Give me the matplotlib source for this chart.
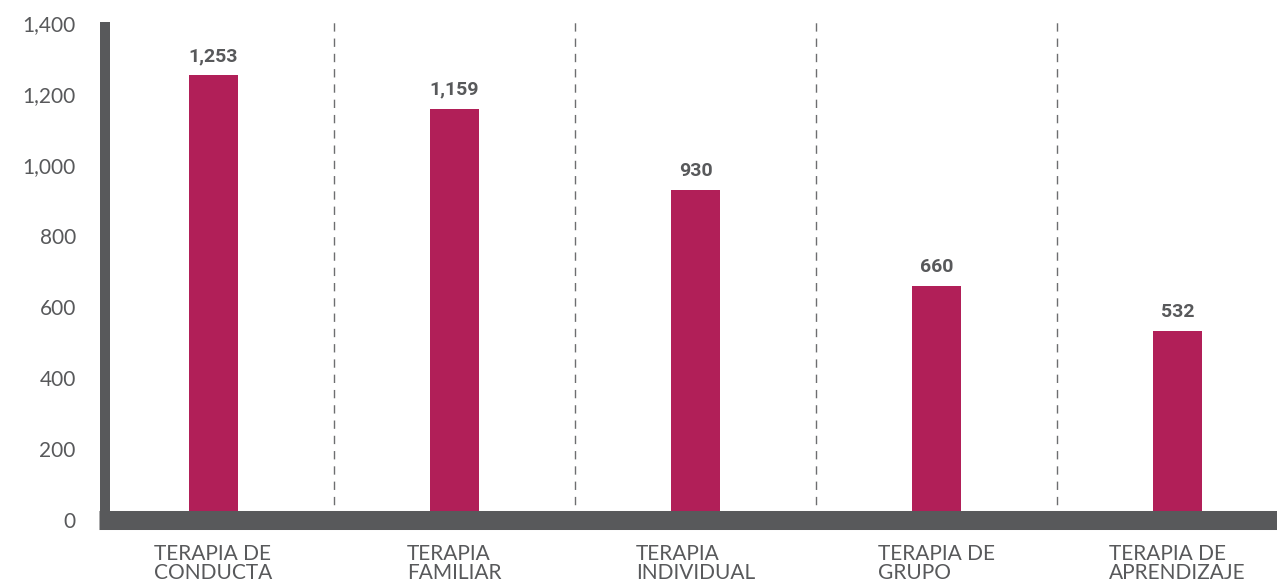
import matplotlib.pyplot as plt

# Número de casos por tipo de terapia
categorias = ["TERAPIA DE\nCONDUCTA", "TERAPIA\nFAMILIAR", "TERAPIA\nINDIVIDUAL",
              "TERAPIA DE\nGRUPO", "TERAPIA DE\nAPRENDIZAJE"]
valores = [1253, 1159, 930, 660, 532]
yticks = [0, 200, 400, 600, 800, 1000, 1200, 1400]

bar_color = "#b11f58"
axis_color = "#58595b"
text_color = "#58595b"

fig = plt.figure(figsize=(12.77, 5.87), dpi=100)
ax = fig.add_axes([105 / 1277, 67 / 587, 1172 / 1277, 497 / 587])

x = list(range(len(valores)))
ax.bar(x, valores, width=0.203, color=bar_color, zorder=2)

for xi, v in zip(x, valores):
    ax.annotate(f"{v:,}", xy=(xi, v), xytext=(0, 7), textcoords="offset points",
                ha="center", va="bottom", fontsize=14, fontweight="bold",
                family="Roboto", color=text_color)

for xi, lab in zip(x, categorias):
    ax.annotate(lab, xy=(xi, 0), xytext=(0, -17), textcoords="offset points",
                ha="center", va="top", multialignment="left", fontsize=15,
                family="Lato", color=text_color,
                linespacing=0.95, annotation_clip=False)

# separadores discontinuos entre categorías
for xi in x[:-1]:
    ax.axvline(xi + 0.5, ymin=0, ymax=1.01, color="#6d6e70", lw=1,
               dashes=(6, 5), clip_on=False, zorder=1)

ax.set_xlim(-0.45, 4.413)
ax.set_ylim(0, 1400)
ax.set_xticks([])
ax.set_yticks(yticks)
ax.set_yticklabels([f"{t:,}" for t in yticks], fontsize=15, family="Lato",
                   color=text_color)
ax.tick_params(axis="y", length=0, pad=21)

for s in ["top", "right", "bottom"]:
    ax.spines[s].set_visible(False)
ax.spines["left"].set_color(axis_color)
ax.spines["left"].set_linewidth(7.2)
ax.spines["left"].set_bounds(0, 1390)
ax.axhline(0, xmin=-0.005, xmax=1, color=axis_color, lw=13.7,
           solid_capstyle="butt", clip_on=False, zorder=3)

fig.savefig("out.png", dpi=100, facecolor="white")
